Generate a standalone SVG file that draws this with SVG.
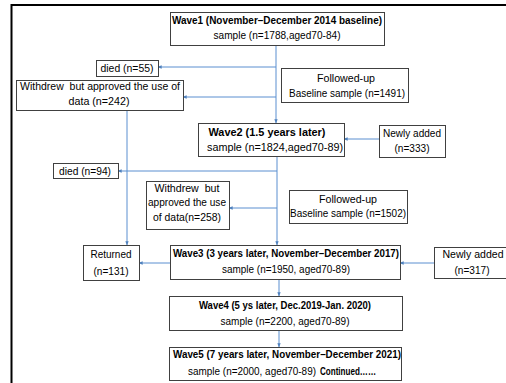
<svg xmlns="http://www.w3.org/2000/svg" width="506" height="383" viewBox="0 0 506 383">
<defs>
<marker id="ah" viewBox="0 0 6 6" refX="5.5" refY="3" markerWidth="4" markerHeight="4" orient="auto" markerUnits="userSpaceOnUse">
<path d="M0,0.5 L6,3 L0,5.5 z" fill="#4f81bd"/>
</marker>
<style>
.box{fill:#fff;stroke:#404040;stroke-width:1}
.t{font-family:"Liberation Sans",Arial,sans-serif;font-size:10.5px;fill:#000;text-anchor:middle;white-space:pre}
.s{text-anchor:start}
.b{font-weight:bold}
.c{fill:none;stroke:#5b8fd0;stroke-width:1;marker-end:url(#ah)}
</style>
</defs>
<rect width="506" height="383" fill="#fff"/>
<path d="M11.5,383 V5 H506" fill="none" stroke="#000" stroke-width="2"/>
<g id="connectors">
<path class="c" d="M276,45 V123"/>
<path class="c" d="M276,67 H158"/>
<path class="c" d="M276,97 H183"/>
<path class="c" d="M127,110 V245"/>
<path class="c" d="M379,139 H344"/>
<path class="c" d="M277,156 V245"/>
<path class="c" d="M277,171 H118"/>
<path class="c" d="M277,208 H229"/>
<path class="c" d="M170,263 H139"/>
<path class="c" d="M434,263 H400"/>
<path class="c" d="M279,279 V296"/>
<path class="c" d="M279,330 V347"/>
</g>
<g id="wave1">
<rect class="box" x="170.5" y="12.5" width="214" height="33"/>
<text class="t b" x="277" y="24" textLength="210" lengthAdjust="spacingAndGlyphs">Wave1 (November–December 2014 baseline)</text>
<text class="t" x="277" y="39" textLength="127" lengthAdjust="spacingAndGlyphs">sample (n=1788,aged70-84)</text>
</g>
<g id="died55">
<rect class="box" x="96.5" y="60.5" width="62" height="16"/>
<text class="t" x="127" y="72" textLength="53" lengthAdjust="spacingAndGlyphs">died (n=55)</text>
</g>
<g id="withdrew242">
<rect class="box" x="16.5" y="80.5" width="167" height="30"/>
<text class="t" x="100" y="90" textLength="160" lengthAdjust="spacingAndGlyphs">Withdrew  but approved the use of</text>
<text class="t" x="99" y="105" textLength="61" lengthAdjust="spacingAndGlyphs">data (n=242)</text>
</g>
<g id="followed1">
<rect class="box" x="281.5" y="68.5" width="127" height="34"/>
<text class="t" x="346" y="82" textLength="58" lengthAdjust="spacingAndGlyphs">Followed-up</text>
<text class="t" x="347" y="97" textLength="116" lengthAdjust="spacingAndGlyphs">Baseline sample (n=1491)</text>
</g>
<g id="wave2">
<rect class="box" x="198.5" y="123.5" width="146" height="33"/>
<text class="t b" x="267" y="136" textLength="117" lengthAdjust="spacingAndGlyphs">Wave2 (1.5 years later)</text>
<text class="t" x="275" y="151" textLength="136" lengthAdjust="spacingAndGlyphs">sample (n=1824,aged70-89)</text>
</g>
<g id="newly333">
<rect class="box" x="379.5" y="125.5" width="66" height="32"/>
<text class="t" x="412" y="137" textLength="58" lengthAdjust="spacingAndGlyphs">Newly added</text>
<text class="t" x="412" y="152" textLength="35" lengthAdjust="spacingAndGlyphs">(n=333)</text>
</g>
<g id="died94">
<rect class="box" x="53.5" y="163.5" width="65" height="15"/>
<text class="t" x="85" y="175" textLength="52" lengthAdjust="spacingAndGlyphs">died (n=94)</text>
</g>
<g id="withdrew258">
<rect class="box" x="146.5" y="181.5" width="83" height="48"/>
<text class="t" x="187" y="192" textLength="65" lengthAdjust="spacingAndGlyphs">Withdrew  but</text>
<text class="t" x="187" y="206" textLength="78" lengthAdjust="spacingAndGlyphs">approved the use</text>
<text class="t" x="187" y="221" textLength="68" lengthAdjust="spacingAndGlyphs">of data(n=258)</text>
</g>
<g id="followed2">
<rect class="box" x="289.5" y="190.5" width="118" height="33"/>
<text class="t" x="348" y="203" textLength="58" lengthAdjust="spacingAndGlyphs">Followed-up</text>
<text class="t" x="348" y="217" textLength="116" lengthAdjust="spacingAndGlyphs">Baseline sample (n=1502)</text>
</g>
<g id="returned">
<rect class="box" x="83.5" y="245.5" width="56" height="35"/>
<text class="t" x="111" y="258" textLength="41" lengthAdjust="spacingAndGlyphs">Returned</text>
<text class="t" x="111" y="275" textLength="35" lengthAdjust="spacingAndGlyphs">(n=131)</text>
</g>
<g id="wave3">
<rect class="box" x="170.5" y="245.5" width="230" height="34"/>
<text class="t b" x="286" y="257" textLength="226" lengthAdjust="spacingAndGlyphs">Wave3 (3 years later, November–December 2017)</text>
<text class="t" x="286" y="273" textLength="128" lengthAdjust="spacingAndGlyphs">sample (n=1950, aged70-89)</text>
</g>
<g id="newly317">
<rect class="box" x="434.5" y="247.5" width="73" height="31"/>
<text class="t" x="473" y="258" textLength="61" lengthAdjust="spacingAndGlyphs">Newly added</text>
<text class="t" x="472" y="274" textLength="35" lengthAdjust="spacingAndGlyphs">(n=317)</text>
</g>
<g id="wave4">
<rect class="box" x="169.5" y="296.5" width="233" height="34"/>
<text class="t b" x="285" y="309" textLength="172" lengthAdjust="spacingAndGlyphs">Wave4 (5 ys later, Dec.2019-Jan. 2020)</text>
<text class="t" x="285" y="325" textLength="129" lengthAdjust="spacingAndGlyphs">sample (n=2200, aged70-89)</text>
</g>
<g id="wave5">
<rect class="box" x="169.5" y="347.5" width="232" height="33"/>
<text class="t b" x="287" y="358" textLength="228" lengthAdjust="spacingAndGlyphs">Wave5 (7 years later, November–December 2021)</text>
<text class="t s" x="188" y="375" textLength="128" lengthAdjust="spacingAndGlyphs">sample (n=2000, aged70-89)</text>
<text class="t s b" x="320" y="375" textLength="56" lengthAdjust="spacingAndGlyphs">Continued……</text>
</g>
</svg>
